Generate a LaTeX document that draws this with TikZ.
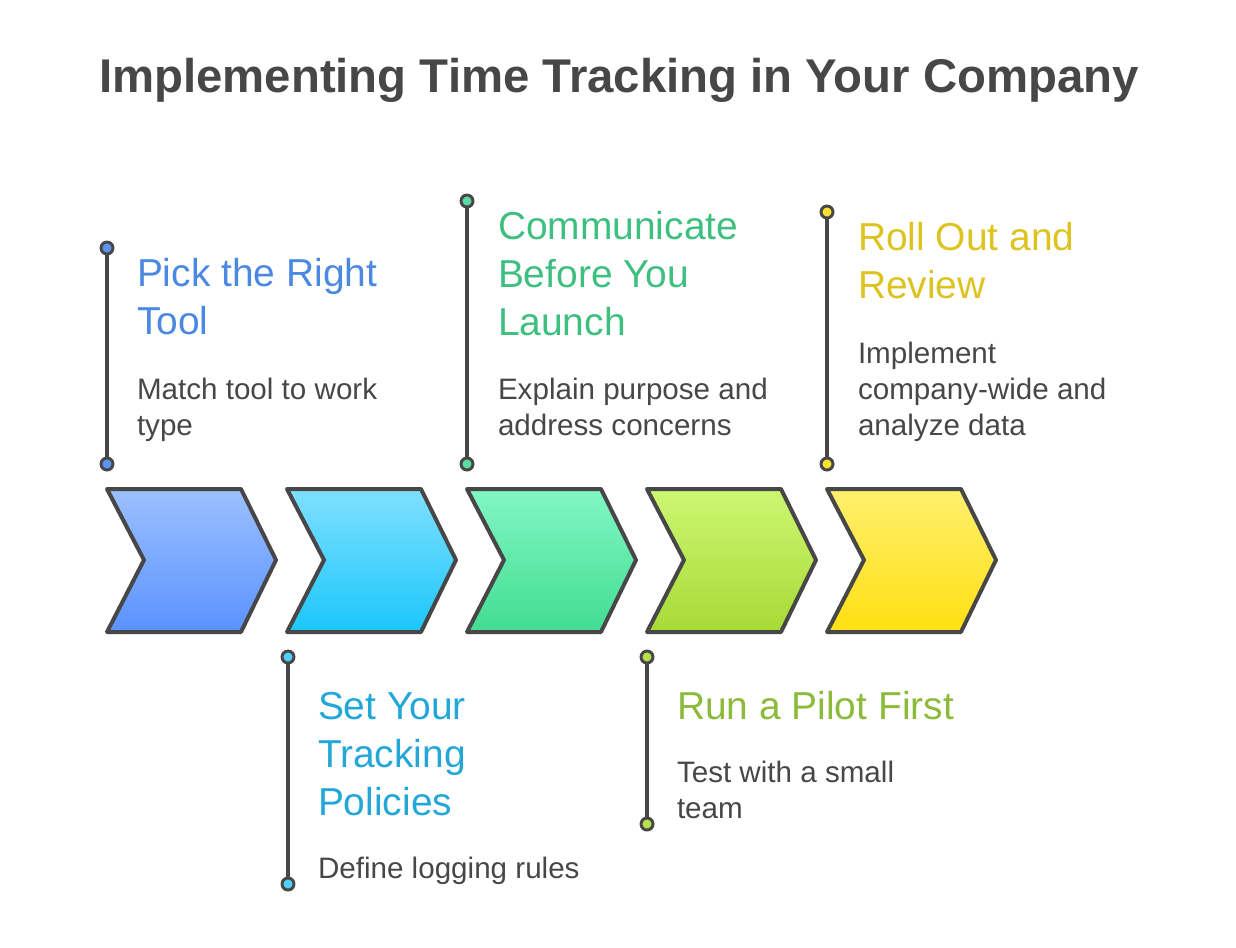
\documentclass[tikz,border=0pt]{standalone}
\usepackage{fontspec}
\setmainfont{Liberation Sans}
\usetikzlibrary{positioning}

\definecolor{ink}{HTML}{474747}
\definecolor{top1}{HTML}{9CC0FF}\definecolor{bot1}{HTML}{5A92FF}
\definecolor{top2}{HTML}{80E0FF}\definecolor{bot2}{HTML}{1BC6FA}
\definecolor{top3}{HTML}{82F7C4}\definecolor{bot3}{HTML}{42DC92}
\definecolor{top4}{HTML}{CDF672}\definecolor{bot4}{HTML}{A7DA36}
\definecolor{top5}{HTML}{FFEF6E}\definecolor{bot5}{HTML}{FFE012}
\definecolor{head1}{HTML}{4A88E2}\definecolor{dot1}{HTML}{5E95F2}
\definecolor{head2}{HTML}{22A7D8}\definecolor{dot2}{HTML}{50CFF7}
\definecolor{head3}{HTML}{3EBF80}\definecolor{dot3}{HTML}{5FD9A3}
\definecolor{head4}{HTML}{8CBB3B}\definecolor{dot4}{HTML}{B8E04E}
\definecolor{head5}{HTML}{DDC320}\definecolor{dot5}{HTML}{FBE133}

\begin{document}
\begin{tikzpicture}[x=0.75pt, y=-0.75pt,
	every node/.style={inner sep=0pt, outer sep=0pt},
	head/.style={anchor=base west, align=left, font=\fontsize{29.2}{36}\selectfont},
	desc/.style={anchor=base west, align=left, text=ink, font=\fontsize{22.2}{27}\selectfont},
	stem/.style={draw=ink, line width=3pt},
	dot/.style={draw=ink, line width=2.2pt}]
	\useasboundingbox (0,0) rectangle (1236,947);
	\node[anchor=base, text=ink, font=\bfseries\fontsize{35.5}{40}\selectfont] (title) at (619,92) {Implementing Time Tracking in Your Company};
	% chevrons
	\foreach \i/\x in {1/107,2/287,3/467,4/647,5/827}
		\shadedraw[top color=top\i, bottom color=bot\i, draw=ink, line width=3pt, line join=round]
			(\x,489) -- ++(134,0) -- ++(35,71) -- ++(-35,72) -- ++(-134,0) -- ++(37,-72) -- cycle;
	% stems with end dots
	\coordinate (s1a) at (107,248); \coordinate (s1b) at (107,464);
	\coordinate (s2a) at (288,657); \coordinate (s2b) at (288,884);
	\coordinate (s3a) at (467,201); \coordinate (s3b) at (467,464);
	\coordinate (s4a) at (647,657); \coordinate (s4b) at (647,824);
	\coordinate (s5a) at (827,212); \coordinate (s5b) at (827,464);
	\foreach \i in {1,...,5}{
		\draw[stem] (s\i a) -- (s\i b);
		\filldraw[dot, fill=dot\i] (s\i a) circle (4.5pt) (s\i b) circle (4.5pt);
	}
	% labels (anchored at the baseline of their last line)
	\node[head, text=head1] (h1) at (137,334) {Pick the Right\\Tool};
	\node[desc] (d1) at (137,435) {Match tool to work\\type};
	\node[head, text=head2] (h2) at (318,815) {Set Your\\Tracking\\Policies};
	\node[desc] (d2) at (318,878) {Define logging rules};
	\node[head, text=head3] (h3) at (498,335) {Communicate\\Before You\\Launch};
	\node[desc] (d3) at (498,435) {Explain purpose and\\address concerns};
	\node[head, text=head4] (h4) at (677,719) {Run a Pilot First};
	\node[desc] (d4) at (677,818) {Test with a small\\team};
	\node[head, text=head5] (h5) at (858,298) {Roll Out and\\Review};
	\node[desc] (d5) at (858,435) {Implement\\company-wide and\\analyze data};
\end{tikzpicture}
\end{document}
